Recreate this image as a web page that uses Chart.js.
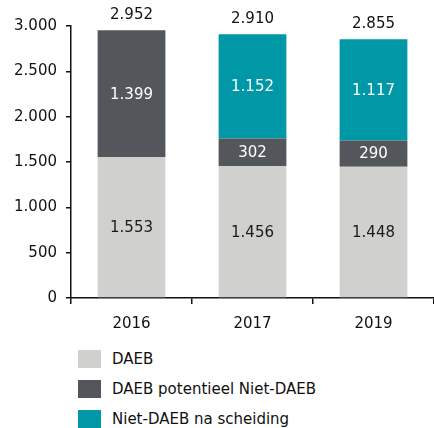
<!DOCTYPE html>
<html lang="nl">
<head>
<meta charset="UTF-8">
<title>DAEB / Niet-DAEB</title>
<style>
  body { margin: 0; background: #fff; font-family: "DejaVu Sans", Verdana, sans-serif; }
  .chartBox { position: relative; width: 434px; height: 336px; }
  #legend { list-style: none; margin: 0; padding: 8px 0 0 78px; }
  #legend li { display: flex; align-items: center; height: 30px; font-size: 15px; color: #111; }
  #legend span.box { display: inline-block; width: 23px; height: 18px; margin-right: 11px; }
</style>
</head>
<body>
<div class="chartBox"><canvas id="myChart"></canvas></div>
<ul id="legend"></ul>

<script src="https://cdn.jsdelivr.net/npm/chart.js"></script>
<script>
const years = ['2016', '2017', '2019'];
const daeb = [1553, 1456, 1448];
const daebPotentieel = [1399, 302, 290];
const nietDaeb = [0, 1152, 1117];
const yTicks = [0, 500, 1000, 1500, 2000, 2500, 3000];

const seriesNames = ['DAEB', 'DAEB potentieel Niet-DAEB', 'Niet-DAEB na scheiding'];
const seriesColors = ['#d0d0ce', '#53565a', '#0098a7'];
const labelColors = ['#1a1a1a', '#ffffff', '#ffffff'];

const fmt = v => String(v).replace(/\B(?=(\d{3})+(?!\d))/g, '.');
const FONT = '"DejaVu Sans", Verdana, sans-serif';

// labels inside segments + total above each bar
const valueLabels = {
  id: 'valueLabels',
  afterDatasetsDraw(chart) {
    const ctx = chart.ctx;
    ctx.save();
    ctx.font = '15px ' + FONT;
    ctx.textAlign = 'center';
    ctx.textBaseline = 'middle';
    const tops = [];
    chart.data.datasets.forEach((ds, di) => {
      const meta = chart.getDatasetMeta(di);
      meta.data.forEach((bar, i) => {
        const v = ds.data[i];
        if (!v) return;
        ctx.fillStyle = labelColors[di];
        ctx.fillText(fmt(v), bar.x, (bar.y + bar.base) / 2 + 1);
        if (tops[i] === undefined || bar.y < tops[i].y) tops[i] = { x: bar.x, y: bar.y };
      });
    });
    ctx.fillStyle = '#111';
    ctx.textBaseline = 'middle';
    tops.forEach((t, i) => {
      const total = daeb[i] + daebPotentieel[i] + nietDaeb[i];
      ctx.fillText(fmt(total), t.x, t.y - 15);
    });
    ctx.restore();
  }
};

const datasets = [daeb, daebPotentieel, nietDaeb].map((d, i) => ({
  label: seriesNames[i],
  data: d,
  backgroundColor: seriesColors[i],
  borderWidth: 0,
  categoryPercentage: 1,
  barPercentage: 0.56
}));

const ctx = document.getElementById('myChart').getContext('2d');
const myChart = new Chart(ctx, {
  type: 'bar',
  data: { labels: years, datasets: datasets },
  options: {
    responsive: true,
    maintainAspectRatio: false,
    animation: false,
    layout: { padding: { top: 26, right: 0, left: 0, bottom: 0 } },
    plugins: { legend: { display: false }, tooltip: { enabled: false } },
    scales: {
      x: {
        stacked: true,
        grid: { offset: true, drawOnChartArea: false, tickLength: 6, color: '#111', lineWidth: 1.5 },
        border: { color: '#111', width: 1.5 },
        ticks: { color: '#111', font: { family: FONT, size: 15 }, padding: 11 },
        afterFit(s) { s.height = 38; }
      },
      y: {
        stacked: true,
        min: 0,
        max: 3000,
        afterBuildTicks(s) { s.ticks = yTicks.map(v => ({ value: v })); },
        grid: { drawOnChartArea: false, tickLength: 5, color: '#111', lineWidth: 1.5 },
        border: { color: '#111', width: 1.5 },
        ticks: { color: '#111', font: { family: FONT, size: 15 }, padding: 9, callback: v => fmt(v) },
        afterFit(s) { s.width = 71; }
      }
    }
  },
  plugins: [valueLabels]
});

// legend as a vertical list under the chart
const legend = document.getElementById('legend');
seriesNames.forEach((name, i) => {
  const li = document.createElement('li');
  li.innerHTML = '<span class="box" style="background:' + seriesColors[i] + '"></span>' + name;
  legend.appendChild(li);
});
</script>
</body>
</html>
